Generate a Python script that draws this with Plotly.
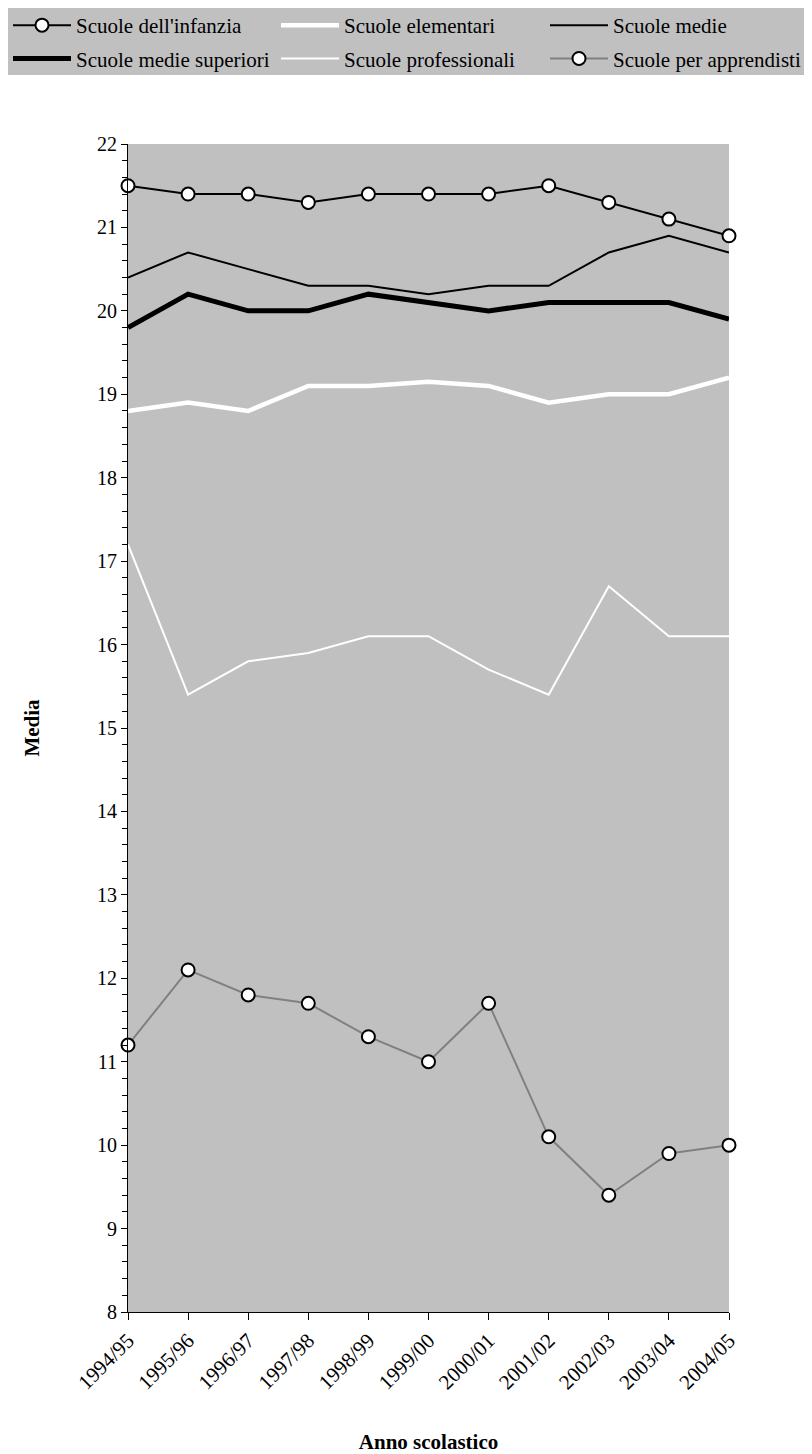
import plotly.graph_objects as go

anni = ["1994/95", "1995/96", "1996/97", "1997/98", "1998/99", "1999/00",
        "2000/01", "2001/02", "2002/03", "2003/04", "2004/05"]

infanzia = [21.5, 21.4, 21.4, 21.3, 21.4, 21.4, 21.4, 21.5, 21.3, 21.1, 20.9]
elementari = [18.8, 18.9, 18.8, 19.1, 19.1, 19.15, 19.1, 18.9, 19.0, 19.0, 19.2]
medie = [20.4, 20.7, 20.5, 20.3, 20.3, 20.2, 20.3, 20.3, 20.7, 20.9, 20.7]
superiori = [19.8, 20.2, 20.0, 20.0, 20.2, 20.1, 20.0, 20.1, 20.1, 20.1, 19.9]
professionali = [17.2, 15.4, 15.8, 15.9, 16.1, 16.1, 15.7, 15.4, 16.7, 16.1, 16.1]
apprendisti = [11.2, 12.1, 11.8, 11.7, 11.3, 11.0, 11.7, 10.1, 9.4, 9.9, 10.0]

FONT = "Liberation Serif, Times New Roman, serif"

fig = go.Figure()

marker_style = dict(symbol="circle", size=13, color="white",
                    line=dict(color="black", width=2))

fig.add_trace(go.Scatter(x=anni, y=infanzia, name="Scuole dell'infanzia",
                         mode="lines+markers", line=dict(color="black", width=2),
                         marker=marker_style, cliponaxis=False,
                         legend="legend", legendgroup="a"))
fig.add_trace(go.Scatter(x=anni, y=elementari, name="Scuole elementari",
                         mode="lines", line=dict(color="white", width=4.5),
                         cliponaxis=False, legend="legend2", legendgroup="b"))
fig.add_trace(go.Scatter(x=anni, y=medie, name="Scuole medie",
                         mode="lines", line=dict(color="black", width=2),
                         cliponaxis=False, legend="legend3", legendgroup="c"))
fig.add_trace(go.Scatter(x=anni, y=superiori, name="Scuole medie superiori",
                         mode="lines", line=dict(color="black", width=5),
                         cliponaxis=False, legend="legend", legendgroup="d"))
fig.add_trace(go.Scatter(x=anni, y=professionali, name="Scuole professionali",
                         mode="lines", line=dict(color="white", width=2),
                         cliponaxis=False, legend="legend2", legendgroup="e"))
fig.add_trace(go.Scatter(x=anni, y=apprendisti, name="Scuole per apprendisti",
                         mode="lines+markers", line=dict(color="#808080", width=2),
                         marker=marker_style, cliponaxis=False,
                         legend="legend3", legendgroup="f"))

# figure size (page body adds an 8px offset)
W, H = 804, 1446
ml, mr, mt, mb = 120, 83, 136, 142
pw, ph = W - ml - mr, H - mt - mb

def px_x(p):
    return (p - ml) / pw

def px_y(p):
    return 1 + (mt - p) / ph

legend_common = dict(orientation="v", xanchor="left", yanchor="top",
                     bgcolor="rgba(0,0,0,0)", borderwidth=0,
                     font=dict(family=FONT, size=21, color="black"),
                     itemwidth=58, tracegroupgap=3)

fig.update_layout(
    width=W, height=H,
    margin=dict(l=ml, r=mr, t=mt, b=mb, autoexpand=False),
    paper_bgcolor="white",
    plot_bgcolor="#c0c0c0",
    font=dict(family=FONT, size=21, color="black"),
    showlegend=True,
    legend=dict(x=px_x(0), y=px_y(-3), **legend_common),
    legend2=dict(x=px_x(268), y=px_y(-3), **legend_common),
    legend3=dict(x=px_x(537), y=px_y(-3), **legend_common),
    shapes=[dict(type="rect", xref="paper", yref="paper",
                 x0=px_x(0), x1=px_x(W), y0=px_y(67), y1=px_y(0),
                 fillcolor="#c0c0c0", line=dict(width=0), layer="below")],
    xaxis=dict(
        type="category", range=[0, 10], showgrid=False, zeroline=False,
        showline=True, linecolor="black", linewidth=1,
        ticks="outside", ticklen=7, tickcolor="black", tickwidth=1,
        tickangle=-45, tickfont=dict(family=FONT, size=21),
        title=dict(text="<b>Anno scolastico</b>", standoff=43,
                   font=dict(family=FONT, size=21)),
        automargin=False,
    ),
    yaxis=dict(
        range=[8, 22], dtick=1, tick0=8, showgrid=False, zeroline=False,
        showline=True, linecolor="black", linewidth=1,
        ticks="outside", ticklen=6, tickcolor="black", tickwidth=1,
        tickfont=dict(family=FONT, size=20),
        minor=dict(dtick=0.2, ticks="outside", ticklen=5, tickcolor="black",
                   tickwidth=1, showgrid=False),
        title=dict(text="<b>Media</b>", standoff=51,
                   font=dict(family=FONT, size=21)),
        automargin=False,
    ),
)

fig.write_html("out.html")
